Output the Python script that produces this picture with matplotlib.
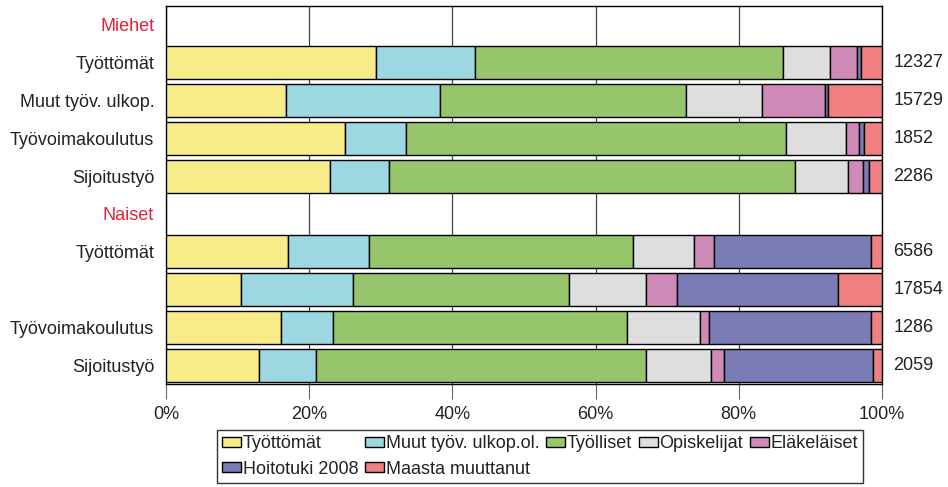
import matplotlib
matplotlib.use("Agg")
import matplotlib.pyplot as plt
import numpy as np

plt.rcParams['font.family'] = ['Liberation Sans', 'DejaVu Sans']

# rivit (otsikkorivit tyhjinä)
row_labels = ['Miehet', 'Työttömät', 'Muut työv. ulkop.', 'Työvoimakoulutus', 'Sijoitustyö',
              'Naiset', 'Työttömät', '', 'Työvoimakoulutus', 'Sijoitustyö']
bar_rows = [1, 2, 3, 4, 6, 7, 8, 9]
totals = [12327, 15729, 1852, 2286, 6586, 17854, 1286, 2059]

categories = ['Työttömät', 'Muut työv. ulkop.ol.', 'Työlliset', 'Opiskelijat',
              'Eläkeläiset', 'Hoitotuki 2008', 'Maasta muuttanut']
colors = ['#F8EC88', '#9DD7E1', '#97C56B', '#DEDEDE', '#CF8AB8', '#7B7BB5', '#EF7F80']

# osuudet % (luettu kuvasta)
tyottomat   = [29.3, 16.7, 25.0, 22.9, 17.1, 10.5, 16.1, 13.0]
muut        = [13.8, 21.5,  8.5,  8.3, 11.2, 15.6,  7.2,  8.0]
tyolliset   = [43.1, 34.4, 53.1, 56.7, 36.9, 30.2, 41.1, 46.0]
opiskelijat = [ 6.5, 10.6,  8.4,  7.3,  8.6, 10.7, 10.2,  9.1]
elakelaiset = [ 3.8,  8.9,  1.8,  2.1,  2.8,  4.4,  1.2,  1.9]
hoitotuki   = [ 0.5,  0.4,  0.7,  0.9, 21.8, 22.4, 22.6, 20.7]
maasta      = [ 3.0,  7.5,  2.5,  1.8,  1.6,  6.2,  1.6,  1.3]

series = [tyottomat, muut, tyolliset, opiskelijat, elakelaiset, hoitotuki, maasta]

fig = plt.figure(figsize=(9.48, 4.87), dpi=100)
ax = fig.add_axes([166/948, 1-384/487, 716/948, 378/487])

left = np.zeros(len(bar_rows))
handles = []
for vals, c, name in zip(series, colors, categories):
    v = np.array(vals)
    b = ax.barh(bar_rows, v, left=left, height=0.87, color=c,
                edgecolor='black', linewidth=1, label=name, zorder=3)
    handles.append(b)
    left += v

for r, t in zip(bar_rows, totals):
    ax.text(1.016, r, str(t), transform=ax.get_yaxis_transform(),
            va='center', ha='left', fontsize=13, color='#222222')

ax.set_xlim(0, 100)
ax.set_ylim(9.5, -0.5)
ax.set_xticks([0, 20, 40, 60, 80, 100])
ax.set_xticklabels(['0%', '20%', '40%', '60%', '80%', '100%'], fontsize=13, color='#222222')
ax.set_yticks(range(10))
ax.set_yticklabels(row_labels, fontsize=13, color='#222222')
for i in (0, 5):
    ax.get_yticklabels()[i].set_color('#E4203A')
ax.tick_params(axis='y', length=0, pad=8.5)
ax.tick_params(axis='x', length=11, color='#666666', pad=5)
ax.grid(axis='x', color='#444444', linewidth=0.9, zorder=0)
ax.set_axisbelow(True)
for s in ax.spines.values():
    s.set_color('black')
    s.set_linewidth(1)

order = [0, 5, 1, 6, 2, 3, 4]
leg = fig.legend([handles[i] for i in order], [categories[i] for i in order],
                 ncol=5, loc='upper left', bbox_to_anchor=(217/948, 1-430/487),
                 fontsize=13, frameon=True, fancybox=False, edgecolor='black',
                 handlelength=1.05, handleheight=0.5, handletextpad=0.08,
                 columnspacing=0.38, labelspacing=0.45, borderpad=0.3,
                 borderaxespad=0)
leg.get_frame().set_linewidth(1)
for t in leg.get_texts():
    t.set_color('#222222')

fig.savefig('out.png', dpi=100)
